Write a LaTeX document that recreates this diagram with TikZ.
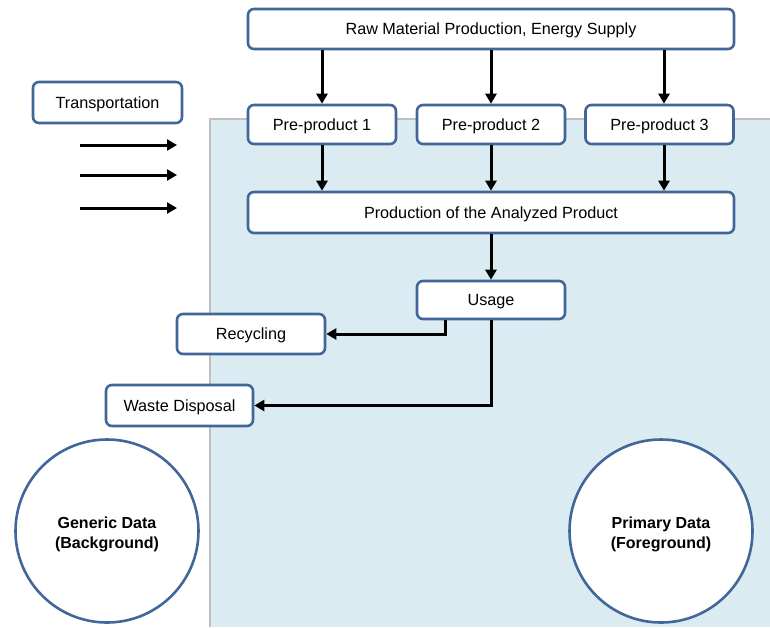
\documentclass[tikz,border=0pt]{standalone}
\usepackage{fontspec}
\setmainfont{Liberation Sans}
\usetikzlibrary{arrows.meta}
\definecolor{boxblue}{HTML}{41679A}
\definecolor{areablue}{HTML}{DAECF2}
\definecolor{edgegray}{HTML}{BFBFBF}
\tikzset{
  stagebox/.style={draw=boxblue, line width=2.6pt, fill=white, rounded corners=6pt,
    inner sep=0pt, text height=11.8pt, text depth=0pt,
    font=\fontsize{16.2}{19}\selectfont},
  smallbox/.style={stagebox, minimum width=148pt, minimum height=39pt},
  widebox/.style={stagebox, minimum width=486pt, minimum height=40pt},
  datacircle/.style={draw=boxblue, line width=2.6pt, fill=white, circle,
    minimum size=183pt, inner sep=0pt, align=center,
    text height=35pt, text depth=0pt,
    font=\fontsize{16}{20}\selectfont\bfseries},
  flow/.style={line width=3pt, -{Triangle[length=10pt,width=11pt]}},
}
\begin{document}
\begin{tikzpicture}[x=1pt, y=-1pt]
\useasboundingbox (0,0) rectangle (770,627);

% foreground area
\fill[areablue] (210,119) rectangle (770,627);
\draw[edgegray, line width=2.5pt] (210,627) -- (210,119) -- (770,119);

% process chain
\node[widebox] (raw) at (491,29) {Raw Material Production, Energy Supply};
\node[smallbox] (p1) at (322,124.5) {Pre-product 1};
\node[smallbox] (p2) at (491,124.5) {Pre-product 2};
\node[smallbox] (p3) at (659.5,124.5) {Pre-product 3};
\node[widebox, minimum height=41pt] (prod) at (491,212.5) {Production of the Analyzed Product};
\node[smallbox, minimum height=38pt] (usage) at (491,300) {Usage};
\node[smallbox, minimum height=40pt] (recyc) at (251,334) {Recycling};
\node[smallbox, minimum width=147pt, minimum height=41pt] (waste) at (179.5,405.5) {Waste Disposal};
\node[smallbox, minimum width=149pt, minimum height=41pt] (trans) at (107.5,102.5) {Transportation};

% data categories
\node[datacircle] (generic) at (107,531) {Generic Data\\(Background)};
\node[datacircle] (primary) at (661,531) {Primary Data\\(Foreground)};

% connectors
\draw[flow] (raw.south -| p1.north) -- (p1.north);
\draw[flow] (raw.south -| p2.north) -- (p2.north);
\draw[flow] ([xshift=4.5pt]raw.south -| p3.north) -- ([xshift=4.5pt]p3.north);
\draw[flow] (p1.south) -- (prod.north -| p1.south);
\draw[flow] (p2.south) -- (prod.north -| p2.south);
\draw[flow] ([xshift=4.5pt]p3.south) -- ([xshift=4.5pt]prod.north -| p3.south);
\draw[flow] (prod.south) -- (usage.north);
\draw[flow] ([xshift=-46pt]usage.south) |- (recyc.east);
\draw[flow] (usage.south) |- (waste.east);

% transport arrows
\coordinate (ta1) at (80,145);  \coordinate (tb1) at (177,145);
\coordinate (ta2) at (80,175);  \coordinate (tb2) at (177,175);
\coordinate (ta3) at (80,208);  \coordinate (tb3) at (177,208);
\draw[flow] (ta1) -- (tb1);
\draw[flow] (ta2) -- (tb2);
\draw[flow] (ta3) -- (tb3);
\end{tikzpicture}
\end{document}
